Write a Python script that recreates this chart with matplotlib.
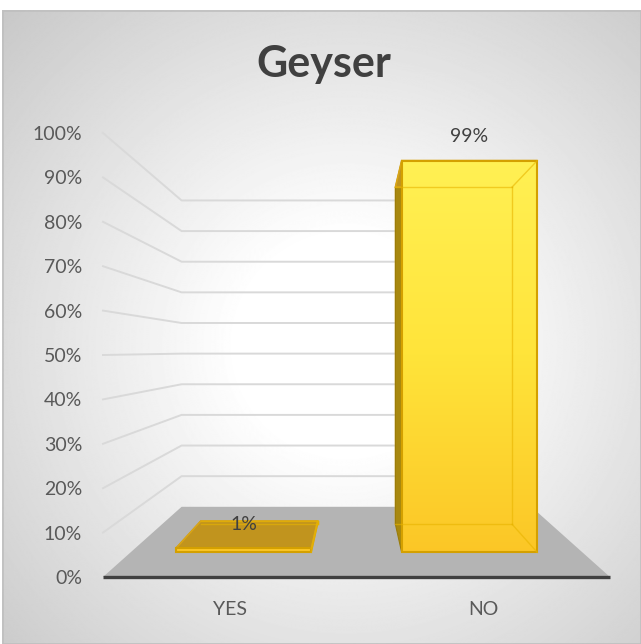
import numpy as np
import matplotlib
matplotlib.use("Agg")
from matplotlib import pyplot as plt
from matplotlib.patches import Polygon, Rectangle
from matplotlib.colors import LinearSegmentedColormap

# survey answers
categories = ["YES", "NO"]
shares = [1, 99]
ticks = list(range(0, 101, 10))

plt.rcParams['font.family'] = ['Lato', 'DejaVu Sans']

W, H = 641, 644
fig = plt.figure(figsize=(W / 100, H / 100), dpi=100)

# card background with a soft radial shading
bg = fig.add_axes([0, 0, 1, 1], zorder=-2)
bg.set_xlim(0, W)
bg.set_ylim(H, 0)
bg.axis('off')
yy, xx = np.mgrid[0:H, 0:W]
r = np.hypot(xx - 345, yy - 340)
t = np.clip((r - 110) / 380, 0, 1)
shade = 1 - 0.22 * t
bg.imshow(shade, cmap='gray', vmin=0, vmax=1, extent=[2, W, H, 10],
          aspect='auto', interpolation='bilinear')
bg.add_patch(Rectangle((2.5, 10.5), W - 3, H - 11, fill=False,
                       edgecolor='#bfbfbf', lw=1.2))

# plot area: x spans the front edge of the floor, y is the percentage
ax = fig.add_axes([103 / W, (H - 577) / H, 507 / W, 444 / H])
ax.set_xlim(0, 1)
ax.set_ylim(0, 100)
ax.patch.set_alpha(0)
for sp in ax.spines.values():
    sp.set_visible(False)

EYE_X, EYE_Y, SHRINK = 0.5, 51.0, 0.31


def proj(x, y, z):
    # simple perspective: z=0 is the front of the floor, z=1 the back wall
    s = 1 - SHRINK * z
    return EYE_X + (x - EYE_X) * s, EYE_Y + (y - EYE_Y) * s


def face(pts, **kw):
    p = Polygon([proj(*q) for q in pts], closed=True, clip_on=False, **kw)
    ax.add_patch(p)
    return p


# walls gridlines
for v in ticks[1:]:
    line = [proj(0, v, 0), proj(0, v, 1), proj(1, v, 1)]
    ax.plot(*zip(*line), color='#d9d9d9', lw=1.4, clip_on=False, zorder=1)

# floor
face([(0, 0, 0), (1, 0, 0), (1, 0, 1), (0, 0, 1)], facecolor='#b4b4b4',
     edgecolor='none', zorder=2)
ax.plot([0, 1], [0, 0], color='#404040', lw=2.4, clip_on=False, zorder=3,
        solid_capstyle='butt')

# bars
ZF, ZB, BAR_W = 0.35, 0.75, 0.30
positions = [(i + 0.5) / len(categories) for i in range(len(categories))]
grad = LinearSegmentedColormap.from_list('gold', ['#fbc324', '#ffe43a', '#fff257'])

for xc, v in zip(positions, shares):
    x0, x1 = xc - BAR_W / 2, xc + BAR_W / 2
    face([(x0, 0, ZB), (x1, 0, ZB), (x1, v, ZB), (x0, v, ZB)],
         facecolor='#f5c21e', edgecolor='#e0ac10', lw=1, zorder=4)
    face([(x0, 0, ZF), (x0, 0, ZB), (x0, v, ZB), (x0, v, ZF)],
         facecolor='#a8880f', edgecolor='#9a7c0a', lw=0.8, zorder=5)
    face([(x1, 0, ZF), (x1, 0, ZB), (x1, v, ZB), (x1, v, ZF)],
         facecolor='#d9a410', edgecolor='#d39e08', lw=0.8, zorder=5)
    face([(x0, v, ZF), (x1, v, ZF), (x1, v, ZB), (x0, v, ZB)],
         facecolor='#c1941e', edgecolor='#d9a516', lw=1.2, zorder=5)
    front = face([(x0, 0, ZF), (x1, 0, ZF), (x1, v, ZF), (x0, v, ZF)],
                 facecolor='none', edgecolor='#d4a000', lw=1.5, zorder=7)
    img = ax.imshow(np.linspace(0, 1, 200)[:, None], cmap=grad,
                    extent=[0, 1, 0, 100], origin='lower', aspect='auto',
                    zorder=6)
    img.set_clip_path(front)
    # back edges showing through the front face
    for a, b in [((x0, v, ZB), (x1, v, ZB)), ((x1, 0, ZB), (x1, v, ZB)),
                 ((x0, 0, ZB), (x1, 0, ZB)), ((x1, v, ZB), (x1, v, ZF)),
                 ((x1, 0, ZB), (x1, 0, ZF))]:
        pa, pb = proj(*a), proj(*b)
        ax.plot([pa[0], pb[0]], [pa[1], pb[1]], color='#e8b400', lw=1,
                alpha=0.6, clip_on=False, zorder=7)
    lx, ly = proj(xc, v, ZF)
    ax.annotate(f"{v}%", (lx, ly), xytext=(0, 17), textcoords='offset points',
                ha='center', va='center', fontsize=14, color='#404040',
                zorder=8)

ax.set_yticks(ticks)
ax.set_yticklabels([f"{v}%" for v in ticks])
ax.set_xticks(positions)
ax.set_xticklabels(categories)
ax.tick_params(axis='y', length=0, pad=15, labelsize=14, labelcolor='#595959')
ax.tick_params(axis='x', length=0, pad=17, labelsize=14, labelcolor='#595959')

fig.text(324 / W, 1 - 64 / H, "Geyser", ha='center', va='center',
         fontsize=31, fontweight='bold', color='#404040')

fig.savefig("out.png", dpi=100)
